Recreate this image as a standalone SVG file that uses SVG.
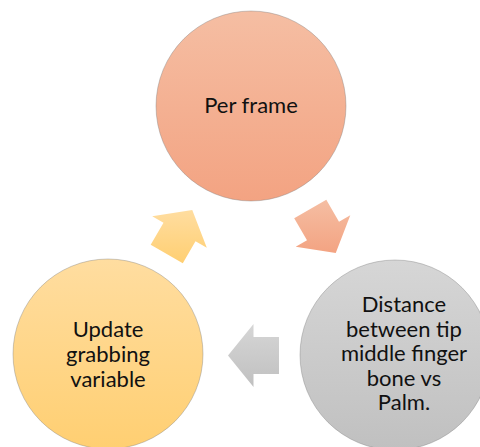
<svg xmlns="http://www.w3.org/2000/svg" width="480" height="447" viewBox="0 0 480 447">
  <defs>
    <linearGradient id="gSalmon" x1="0" y1="0" x2="0" y2="1">
      <stop offset="0" stop-color="#F5BEA3"/>
      <stop offset="1" stop-color="#F3A382"/>
    </linearGradient>
    <linearGradient id="gYellow" x1="0" y1="0" x2="0" y2="1">
      <stop offset="0" stop-color="#FFDDA0"/>
      <stop offset="1" stop-color="#FFCF72"/>
    </linearGradient>
    <linearGradient id="gGrey" x1="0" y1="0" x2="0" y2="1">
      <stop offset="0" stop-color="#D6D6D6"/>
      <stop offset="1" stop-color="#C0C0C0"/>
    </linearGradient>
    <style>
      .node { stroke: #7a7a7a; stroke-opacity: 0.55; stroke-width: 0.7; }
      .label { font-family: Lato, "Liberation Sans", sans-serif; font-size: 22px; fill: #111111; text-anchor: middle; }
    </style>
  </defs>

  <!-- cycle nodes -->
  <g id="node-per-frame">
    <circle class="node" cx="251" cy="106" r="95" fill="url(#gSalmon)"/>
    <text class="label" x="251" y="113">Per frame</text>
  </g>

  <g id="node-distance">
    <circle class="node" cx="395" cy="355" r="95" fill="url(#gGrey)"/>
    <text class="label" x="404" y="312">Distance</text>
    <text class="label" x="404" y="336.5">between tip</text>
    <text class="label" x="404" y="361">middle finger</text>
    <text class="label" x="404" y="385.5">bone vs</text>
    <text class="label" x="404" y="410">Palm.</text>
  </g>

  <g id="node-update">
    <circle class="node" cx="108" cy="354" r="95" fill="url(#gYellow)"/>
    <text class="label" x="108" y="337">Update</text>
    <text class="label" x="108" y="362">grabbing</text>
    <text class="label" x="108" y="387">variable</text>
  </g>

  <!-- block arrows between nodes -->
  <g id="connectors">
    <polygon fill="url(#gSalmon)" points="326.3,199.7 339,221.75 350.3,215.25 335.75,253.1 295.7,246.75 307,240.25 294.2,218.2"/>
    <polygon fill="url(#gGrey)" points="279,337 253.5,337 253.5,324 228,355.5 253.5,387 253.5,374 279,374"/>
    <polygon fill="url(#gYellow)" points="150.7,244.8 163.5,222.75 152.2,216.25 192.25,209.9 206.8,247.75 195.5,241.25 182.8,263.3"/>
  </g>
</svg>
